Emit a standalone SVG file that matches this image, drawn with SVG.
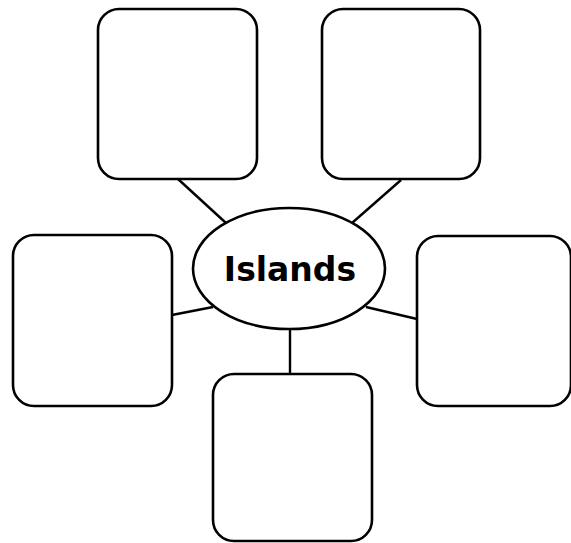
<svg xmlns="http://www.w3.org/2000/svg" width="571" height="543" viewBox="0 0 571 543">
<style>
.box{fill:#fff;stroke:#000;stroke-width:2.6}
.conn line{stroke:#000;stroke-width:2.4}
.lbl{font-family:"DejaVu Sans",Verdana,sans-serif;font-weight:bold;font-size:33px;fill:#000}
</style>
<rect width="571" height="543" fill="#fff"/>
<g id="connectors" class="conn">
<line x1="178" y1="179" x2="226" y2="223"/>
<line x1="401" y1="180" x2="352" y2="223"/>
<line x1="172" y1="315" x2="213" y2="307"/>
<line x1="366" y1="307" x2="417" y2="319"/>
<line x1="290" y1="329" x2="290" y2="374"/>
</g>
<g id="box-top-left"><rect class="box" x="98" y="9" width="159" height="170" rx="21"/></g>
<g id="box-top-right"><rect class="box" x="322" y="9" width="158" height="170" rx="21"/></g>
<g id="box-left"><rect class="box" x="13" y="235" width="159" height="171" rx="21"/></g>
<g id="box-right"><rect class="box" x="417" y="236" width="154" height="170" rx="21"/></g>
<g id="box-bottom"><rect class="box" x="213" y="374" width="159" height="167" rx="21"/></g>
<g id="center">
<ellipse class="box" cx="289" cy="268.5" rx="96" ry="60.5"/>
<text class="lbl" x="290" y="281" text-anchor="middle">Islands</text>
</g>
</svg>
